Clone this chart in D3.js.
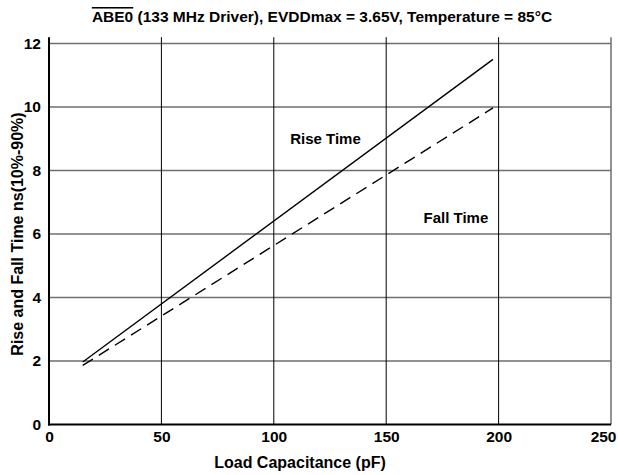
<!DOCTYPE html>
<html>
<head>
<meta charset="utf-8">
<script src="https://cdn.jsdelivr.net/npm/d3@7"></script>
<style>
  body { margin: 0; background: #fff; }
  text { font-family: "Liberation Sans", Arial, sans-serif; font-weight: bold; }
</style>
</head>
<body>
<script>
// data
var loadCap = [15, 197.5]
var riseTime = [1.97, 11.5]
var fallTime = [1.86, 9.97]
var xTicks = [0, 50, 100, 150, 200, 250]
var yTicks = [0, 2, 4, 6, 8, 10, 12]

var W = 618, H = 475
var margin = {top: 43.5, right: 7, bottom: 50.5, left: 49}
var width = W - margin.left - margin.right
var height = H - margin.top - margin.bottom

var x = d3.scaleLinear().domain([0, 250]).range([0, width])
var y = d3.scaleLinear().domain([0, 12]).range([height, 0])

var svg = d3.select("body").append("svg").attr("width", W).attr("height", H)
var g = svg.append("g").attr("transform", "translate(" + margin.left + "," + margin.top + ")")

// horizontal grid (grey)
g.append("g").selectAll("line").data(yTicks.slice(1)).enter().append("line")
    .attr("x1", 0).attr("x2", width)
    .attr("y1", function(d){ return y(d) }).attr("y2", function(d){ return y(d) })
    .attr("stroke", "#6e6e6e").attr("stroke-width", 1.3)

// vertical grid (black)
g.append("g").selectAll("line").data(xTicks.slice(1)).enter().append("line")
    .attr("x1", function(d){ return x(d) }).attr("x2", function(d){ return x(d) })
    .attr("y1", y(12.2)).attr("y2", height)
    .attr("stroke", function(d){ return d == 250 ? "#777" : "#000" })
    .attr("stroke-width", function(d){ return d == 250 ? 1.6 : 1 })

// axes
var xAxis = d3.axisBottom(x).tickValues(xTicks).tickSize(0).tickPadding(6)
var yAxis = d3.axisLeft(y).tickValues(yTicks).tickSize(0).tickPadding(8)

var gx = g.append("g").attr("transform", "translate(0," + height + ")").call(xAxis)
gx.select(".domain").remove()
gx.selectAll("text").attr("font-size", 15.5).attr("fill", "#000")
    .style("font-family", "'Liberation Sans', Arial, sans-serif")
gx.selectAll(".tick").filter(function(d){ return d == 250 })
    .select("text").attr("text-anchor", "end").attr("x", 5)

var gy = g.append("g").call(yAxis)
gy.select(".domain").remove()
gy.selectAll("text").attr("font-size", 15.5).attr("fill", "#000")
    .style("font-family", "'Liberation Sans', Arial, sans-serif")

g.append("line").attr("x1", 0).attr("x2", 0).attr("y1", y(12.2)).attr("y2", height + 1)
    .attr("stroke", "#000").attr("stroke-width", 2)
g.append("line").attr("x1", -1).attr("x2", width).attr("y1", height).attr("y2", height)
    .attr("stroke", "#000").attr("stroke-width", 2)

// lines
var line = d3.line().x(function(d){ return x(d[0]) }).y(function(d){ return y(d[1]) })

g.append("path").attr("d", line(d3.zip(loadCap, riseTime)))
    .attr("fill", "none").attr("stroke", "#000").attr("stroke-width", 1.4)
g.append("path").attr("d", line(d3.zip(loadCap, fallTime)))
    .attr("fill", "none").attr("stroke", "#000").attr("stroke-width", 1.4)
    .attr("stroke-dasharray", "12,7")

// line labels
g.append("text").attr("x", x(123)).attr("y", y(8.85)).attr("text-anchor", "middle")
    .attr("font-size", 15).text("Rise Time")
g.append("text").attr("x", x(181)).attr("y", y(6.35)).attr("text-anchor", "middle")
    .attr("font-size", 15).text("Fall Time")

// axis titles
svg.append("text").attr("x", 300).attr("y", 468).attr("text-anchor", "middle")
    .attr("font-size", 16).text("Load Capacitance (pF)")
svg.append("text").attr("transform", "translate(23," + (margin.top + height / 2) + ") rotate(-90)")
    .attr("text-anchor", "middle").attr("font-size", 16).text("Rise and Fall Time ns(10%-90%)")

// title with overline on ABE0
var title = svg.append("text").attr("x", 322).attr("y", 22).attr("text-anchor", "middle")
    .attr("font-size", 15.5)
title.append("tspan").attr("text-decoration", "overline").text("ABE0")
title.append("tspan").text(" (133 MHz Driver), EVDDmax = 3.65V, Temperature = 85°C")
</script>
</body>
</html>
